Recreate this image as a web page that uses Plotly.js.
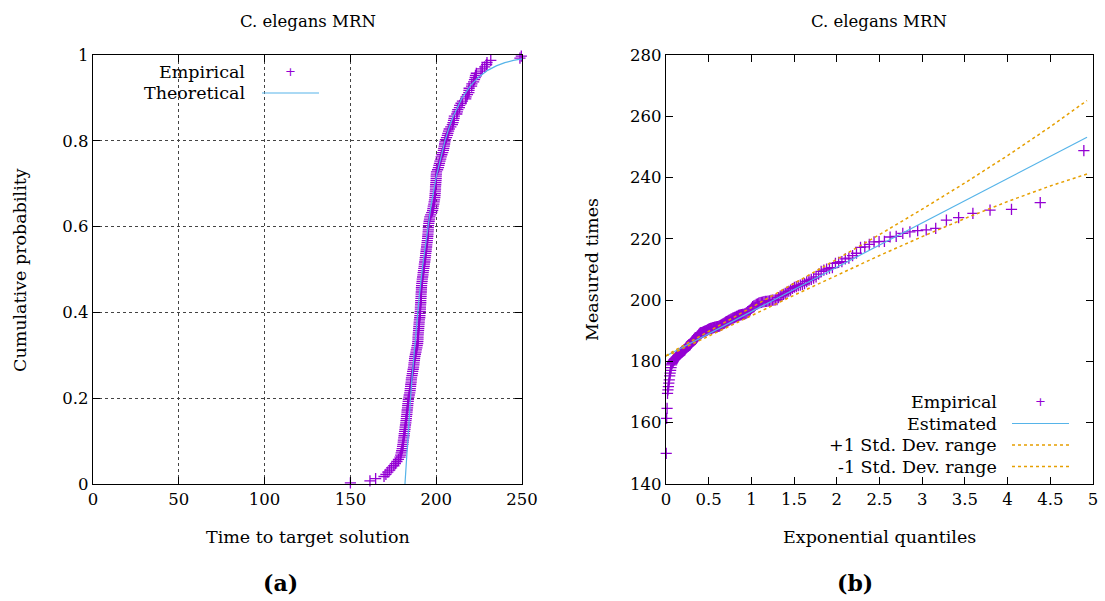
<!DOCTYPE html>
<html>
<head>
<meta charset="utf-8">
<script src="https://cdn.plot.ly/plotly-3.0.1.min.js"></script>
<style>html,body{margin:0;padding:0;background:#fff;}#chart{width:1105px;height:601px;}</style>
</head>
<body>
<div id="chart"></div>
<script>
// Sorted measured times to target solution (200 runs)
const times = [
150.0,161.4,164.7,169.6,170.7,171.8,172.9,174.0,175.3,176.2,
177.1,178.0,178.9,179.3,179.6,179.9,180.2,180.4,180.6,180.8,
180.9,181.1,181.3,181.4,181.6,181.8,181.9,182.1,182.3,182.4,
182.6,182.7,182.9,183.0,183.1,183.3,183.4,183.5,183.7,183.8,
184.1,184.3,184.6,184.8,184.9,185.1,185.2,185.4,185.5,185.6,
185.9,186.1,186.3,186.6,186.8,187.0,187.1,187.3,187.4,187.6,
187.9,188.2,188.4,188.7,188.9,189.2,189.3,189.4,189.4,189.5,
189.6,189.7,189.8,189.9,190.0,190.1,190.2,190.4,190.5,190.6,
190.7,190.8,190.8,190.9,191.0,191.0,191.1,191.2,191.2,191.3,
191.4,191.4,191.5,191.6,191.8,191.9,192.1,192.3,192.4,192.6,
192.8,193.0,193.1,193.3,193.5,193.6,193.8,193.9,194.1,194.2,
194.4,194.5,194.7,194.8,195.0,195.1,195.2,195.3,195.4,195.4,
195.5,195.7,195.9,196.1,196.3,196.8,197.4,197.9,198.1,198.3,
198.6,198.8,199.0,199.2,199.3,199.4,199.5,199.6,199.6,199.7,
199.8,199.9,200.0,200.0,200.1,200.2,200.8,201.3,201.6,201.9,
202.2,202.6,202.9,203.3,203.8,204.2,204.4,204.7,204.9,205.1,
205.4,206.0,206.5,206.8,207.2,207.6,208.5,209.4,209.8,210.1,
210.4,210.6,212.0,212.3,212.6,213.5,213.7,214.5,215.3,217.2,
217.4,218.2,219.0,219.1,219.2,220.6,220.8,221.8,222.3,222.7,
222.9,223.4,226.1,226.9,228.3,229.4,229.6,231.8,248.8,249.6
];

// Theoretical (shifted exponential) CDF (a)
const theoT = [181.8,182.5,183,184,185,186,187,188,190,192,195,197,200,205,207.5,210,215,220,225,230,235,240,245,250];
const theoP = [0,0.0472,0.0796,0.141,0.1984,0.252,0.3019,0.3485,0.4326,0.5058,0.5984,0.6502,0.7157,0.7988,0.8307,0.8576,0.8992,0.9286,0.9495,0.9642,0.9747,0.9821,0.9873,0.9910];

// Q-Q plot lines (b)
const qLine  = [0,0.02,0.05,0.1,0.25,0.5,0.75,1,1.5,2,2.5,3,3.5,4,4.5,4.93];
const estY   = [181.8,182.09,182.52,183.25,185.42,189.04,192.65,196.27,203.51,210.74,217.98,225.21,232.45,239.68,246.92,253.14];
const upperY = [181.8,182.24,182.76,183.58,185.97,189.86,193.73,197.61,205.42,213.33,221.40,229.68,238.25,247.17,256.57,265.13];
const lowerY = [181.8,181.95,182.29,182.92,184.88,188.22,191.57,194.93,201.60,208.15,214.56,220.74,226.65,232.19,237.27,241.15];

// Tick labels
const xTicksA = [0,50,100,150,200,250];
const yTicksA = [0,0.2,0.4,0.6,0.8,1];
const xTicksB = [0,0.5,1,1.5,2,2.5,3,3.5,4,4.5,5];
const yTicksB = [140,160,180,200,220,240,260,280];

const n = times.length;
const probs = times.map((t,i)=> (i+0.5)/n);
const quant = probs.map(p => -Math.log(1-p));

const PURPLE = '#9400d3', BLUE = '#56b4e9', ORANGE = '#e69f00';
const FONT = "'DejaVu Serif', 'Liberation Serif', serif";
const W = 1105, H = 601;
const px = v => v / W, py = v => 1 - v / H;

const marker = {symbol:'cross-thin', size:8, line:{color:PURPLE, width:1.3}, color:PURPLE};

const traces = [
  {x: times, y: probs, type:'scatter', mode:'markers', marker: marker, cliponaxis:false, xaxis:'x', yaxis:'y', name:'Empirical'},
  {x: theoT, y: theoP, type:'scatter', mode:'lines', line:{color:BLUE, width:1.2}, xaxis:'x', yaxis:'y', name:'Theoretical'},
  {x: quant, y: times, type:'scatter', mode:'markers', marker: marker, cliponaxis:false, xaxis:'x2', yaxis:'y2', name:'Empirical'},
  {x: qLine, y: estY, type:'scatter', mode:'lines', line:{color:BLUE, width:1.2}, xaxis:'x2', yaxis:'y2', name:'Estimated'},
  {x: qLine, y: upperY, type:'scatter', mode:'lines', line:{color:ORANGE, width:1.5, dash:'dot'}, xaxis:'x2', yaxis:'y2', name:'+1 Std. Dev. range'},
  {x: qLine, y: lowerY, type:'scatter', mode:'lines', line:{color:ORANGE, width:1.5, dash:'dot'}, xaxis:'x2', yaxis:'y2', name:'-1 Std. Dev. range'}
];

const axBase = {
  showline:true, linecolor:'#000', linewidth:1.3, mirror:'allticks',
  ticks:'inside', ticklen:7, tickwidth:1, tickcolor:'#000',
  zeroline:false, tickfont:{family:FONT, size:16.5, color:'#000'}, fixedrange:true
};

const yDom = [ (H-484)/H, (H-55)/H ];

const layout = {
  width: W, height: H,
  margin:{l:0,r:0,t:0,b:0},
  paper_bgcolor:'#fff', plot_bgcolor:'#fff',
  showlegend:false,
  font:{family:FONT, color:'#000'},
  xaxis: Object.assign({}, axBase, {domain:[px(93), px(522)], range:[0,250], tickvals:xTicksA, ticktext:xTicksA.map(String),
    showgrid:true, gridcolor:'#444', griddash:'dot', gridwidth:1, anchor:'y'}),
  yaxis: Object.assign({}, axBase, {domain:yDom, range:[0,1], tickvals:yTicksA, ticktext:yTicksA.map(String),
    showgrid:true, gridcolor:'#444', griddash:'dot', gridwidth:1, anchor:'x'}),
  xaxis2: Object.assign({}, axBase, {domain:[px(666), px(1093)], range:[0,5], tickvals:xTicksB, ticktext:xTicksB.map(String), showgrid:false, anchor:'y2'}),
  yaxis2: Object.assign({}, axBase, {domain:yDom, range:[140,280], tickvals:yTicksB, ticktext:yTicksB.map(String), showgrid:false, anchor:'x2'}),
  annotations: [],
  shapes: []
};

function txt(text, x, y, size, opts){
  layout.annotations.push(Object.assign({text:text, x:px(x), y:py(y), xref:'paper', yref:'paper',
    showarrow:false, xanchor:'center', yanchor:'middle', font:{family:FONT, size:size, color:'#000'}}, opts||{}));
}
// titles
txt('C. elegans MRN', 307.5, 22, 16.5);
txt('C. elegans MRN', 879.5, 22, 16.5);
txt('Time to target solution', 307.5, 537, 17.5);
txt('Exponential quantiles', 879.5, 537, 17.5);
txt('Cumulative probability', 20, 270, 17.5, {textangle:-90});
txt('Measured times', 592, 270, 17.5, {textangle:-90});
txt('<b>(a)</b>', 280, 583, 22);
txt('<b>(b)</b>', 855, 583, 22);

// legend (a)
txt(traces[0].name, 247, 72, 17.5, {xanchor:'right'});
txt(traces[1].name, 247, 93.5, 17.5, {xanchor:'right'});
txt('+', 290, 71, 13, {font:{family:'DejaVu Sans', size:13, color:PURPLE}});
layout.shapes.push({type:'line', xref:'paper', yref:'paper', x0:px(262), x1:px(319), y0:py(93), y1:py(93), line:{color:BLUE, width:1.2}});

// legend (b)
const legB = [traces[2].name, traces[3].name, traces[4].name, traces[5].name];
const rowsB = [402, 423.5, 445, 466.5];
legB.forEach((s,i)=> txt(s, 999, rowsB[i], 17.5, {xanchor:'right'}));
txt('+', 1040.7, 401, 13, {font:{family:'DejaVu Sans', size:13, color:PURPLE}});
layout.shapes.push({type:'line', xref:'paper', yref:'paper', x0:px(1012), x1:px(1069), y0:py(rowsB[1]), y1:py(rowsB[1]), line:{color:BLUE, width:1.2}});
layout.shapes.push({type:'line', xref:'paper', yref:'paper', x0:px(1012), x1:px(1069), y0:py(rowsB[2]), y1:py(rowsB[2]), line:{color:ORANGE, width:1.5, dash:'dot'}});
layout.shapes.push({type:'line', xref:'paper', yref:'paper', x0:px(1012), x1:px(1069), y0:py(rowsB[3]), y1:py(rowsB[3]), line:{color:ORANGE, width:1.5, dash:'dot'}});

Plotly.newPlot('chart', traces, layout, {staticPlot:true, displayModeBar:false});
</script>
</body>
</html>
